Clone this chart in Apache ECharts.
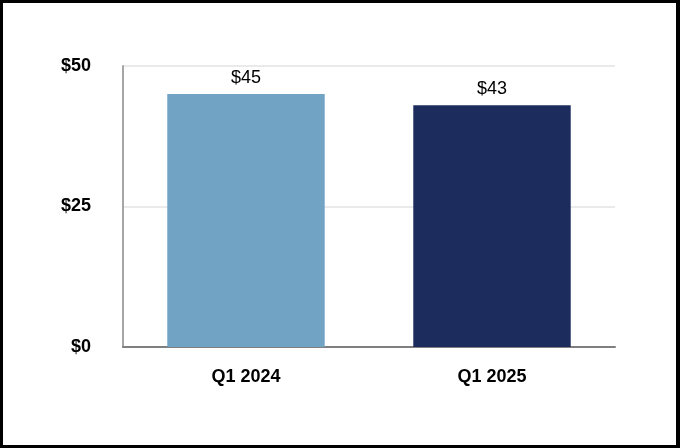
<!DOCTYPE html>
<html>
<head>
<meta charset="utf-8">
<script src="https://cdn.jsdelivr.net/npm/echarts@6/dist/echarts.min.js"></script>
<style>
  html, body { margin: 0; padding: 0; background: #fff; }
  #wrap { position: relative; width: 680px; height: 448px; }
  #chart { position: absolute; left: 0; top: 0; width: 680px; height: 448px; }
  #frame {
    position: absolute; left: 0; top: 0; width: 680px; height: 448px;
    box-sizing: border-box; border: 3px solid #000; border-right-width: 4px;
    pointer-events: none;
  }
</style>
</head>
<body>
<div id="wrap">
  <div id="chart"></div>
  <div id="frame"></div>
</div>
<script>
const categories = ['Q1 2024', 'Q1 2025']
const values = [45, 43]
const barColors = ['#71a3c5', '#1c2d5d']
const yTicks = [0, 25, 50]

const chart = echarts.init(document.getElementById('chart'))

const option = {
  animation: false,
  textStyle: { fontFamily: 'Liberation Sans, Arial, sans-serif' },
  grid: {
    left: 123,
    right: 65,
    top: 66,
    bottom: 101,
    containLabel: false,
  },
  xAxis: {
    type: 'category',
    data: categories,
    axisLine: { lineStyle: { color: '#7f7f7f', width: 2 } },
    axisTick: { show: false },
    axisLabel: {
      color: '#000',
      fontSize: 18,
      fontWeight: 'bold',
      margin: 21,
    },
  },
  yAxis: {
    type: 'value',
    min: yTicks[0],
    max: yTicks[yTicks.length - 1],
    interval: 25,
    axisLine: { show: true, lineStyle: { color: '#a6a6a6', width: 2 } },
    axisTick: { show: false },
    splitLine: { lineStyle: { color: '#e3e3e3', width: 1.5 } },
    axisLabel: {
      color: '#000',
      fontSize: 18,
      fontWeight: 'bold',
      margin: 32,
      padding: [4, 0, 0, 0],
      formatter: (v) => '$' + v,
    },
  },
  series: [
    {
      type: 'bar',
      barWidth: '64%',
      data: values.map((value, index) => ({
        value,
        itemStyle: { color: barColors[index % barColors.length] },
      })),
      label: {
        show: true,
        position: 'top',
        distance: 7,
        color: '#000',
        fontSize: 18,
        formatter: (p) => '$' + p.value,
      },
    },
  ],
}

chart.setOption(option)
</script>
</body>
</html>
